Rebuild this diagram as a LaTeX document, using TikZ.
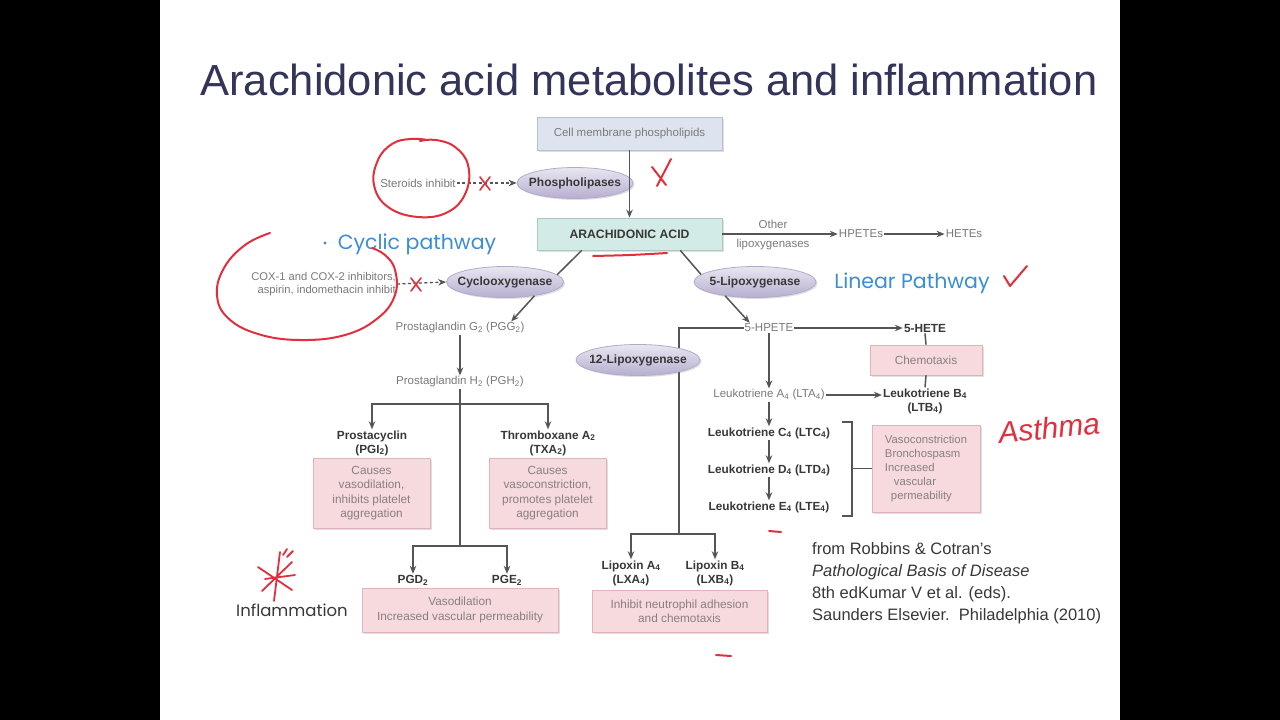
\documentclass[tikz,border=0pt]{standalone}
\usepackage{fontspec}
\setmainfont{Liberation Sans}
\newfontfamily\handfont{Poppins}
\usetikzlibrary{shapes.geometric,arrows.meta,shadows,calc}
\definecolor{linegray}{HTML}{555555}
\definecolor{txtgray}{HTML}{7A7A7A}
\definecolor{txtdark}{HTML}{383838}
\definecolor{boxtxt}{HTML}{8A7F80}
\definecolor{lavtop}{HTML}{E9E6F1}
\definecolor{lavbot}{HTML}{B7AECF}
\definecolor{lavdraw}{HTML}{B3AACB}
\definecolor{pinkfill}{HTML}{F6DADD}
\definecolor{pinkdraw}{HTML}{DDB4B8}
\definecolor{bluefill}{HTML}{DEE4EF}
\definecolor{bluedraw}{HTML}{B6C0D2}
\definecolor{tealfill}{HTML}{D3EBE6}
\definecolor{tealdraw}{HTML}{A9C9C2}
\definecolor{hred}{HTML}{E0303E}
\definecolor{hblue}{HTML}{3B8DD6}
\definecolor{titlecol}{HTML}{33345A}
\tikzset{
  ln/.style={draw=linegray, line width=1.5pt},
  arr/.style={ln, -{Stealth[length=8pt,width=6.5pt]}},
  darr/.style={draw=linegray, line width=1.3pt, dash pattern=on 3pt off 2.5pt, -{Stealth[length=8pt,width=6.5pt]}},
  gtxt/.style={font=\fontsize{11.5}{13}\selectfont, text=txtgray, inner sep=1pt},
  btxt/.style={font=\fontsize{11.8}{14}\selectfont\bfseries, text=txtdark, inner sep=1pt, align=center},
  enz/.style={ellipse, minimum width=118pt, minimum height=31pt, inner ysep=0pt, inner xsep=-6pt,
    top color=lavtop, bottom color=lavbot, draw=lavdraw, line width=0.8pt,
    font=\fontsize{12}{13}\selectfont\bfseries, text=txtdark,
    drop shadow={opacity=0.25,shadow xshift=1.5pt,shadow yshift=-1.5pt}},
  pinkbox/.style={rectangle, fill=pinkfill, draw=pinkdraw, line width=0.8pt,
    font=\fontsize{11.8}{14.2}\selectfont, text=boxtxt, align=center, inner sep=2pt,
    drop shadow={opacity=0.25,shadow xshift=2pt,shadow yshift=-2pt}},
  hand/.style={draw=hred, line width=2pt, line cap=round, line join=round},
  bluehand/.style={text=hblue, font=\handfont\fontsize{20.5}{22}\selectfont, inner sep=0pt},
}
\begin{document}
\begin{tikzpicture}[x=1pt,y=-1pt]
\useasboundingbox (0,0) rectangle (1280,720);
\fill[white] (0,0) rectangle (1280,720);
\fill[black] (0,0) rectangle (160,720);
\fill[black] (1120,0) rectangle (1280,720);

% title
\node[anchor=base, text=titlecol, font=\fontsize{43.5}{50}\selectfont, inner sep=0pt] (title) at (649,95) {Arachidonic acid metabolites and inflammation};

% top part
\node[rectangle, minimum width=185pt, minimum height=33pt, fill=bluefill, draw=bluedraw, line width=0.8pt,
  font=\fontsize{11.5}{13}\selectfont, text=txtgray,
  drop shadow={opacity=0.25,shadow xshift=2pt,shadow yshift=-2pt}] (cell) at (629.5,133.5) {Cell membrane phospholipids};
\node[enz, minimum width=116pt] (plip) at (575,183) {Phospholipases};
\node[rectangle, minimum width=185pt, minimum height=32pt, fill=tealfill, draw=tealdraw, line width=0.8pt,
  font=\fontsize{12.2}{13}\selectfont\bfseries, text=txtdark,
  drop shadow={opacity=0.25,shadow xshift=2pt,shadow yshift=-2pt}] (aa) at (629.5,234) {ARACHIDONIC ACID};
\node[gtxt] (ster) at (418,183) {Steroids inhibit};
\draw[arr] (cell.south) -- (aa.north);
\draw[darr] (ster.east) -- (plip.west);

\node[gtxt] (hpetes) at (861,234) {HPETEs};
\node[gtxt] (hetes) at (964,234) {HETEs};
\node[gtxt] (other) at (773,224) {Other};
\node[gtxt] (otherlox) at (773,245) {lipoxygenases};
\draw[arr] (aa.east) -- (hpetes.west);
\draw[arr] (hpetes.east) -- (hetes.west);

% enzymes
\node[enz, minimum width=116pt] (cox) at (505,282) {Cyclooxygenase};
\node[enz, minimum width=122pt] (lox5) at (755,282) {5-Lipoxygenase};
\draw[ln] ($(aa.south west)!0.243!(aa.south east)$) -- (cox.8);
\draw[ln] ($(aa.south west)!0.773!(aa.south east)$) -- (lox5.172);

\node[gtxt, align=right, anchor=east, font=\fontsize{11.2}{13}\selectfont] (coxinh) at (397,284) {COX-1 and COX-2 inhibitors,\\aspirin, indomethacin inhibit};
\draw[darr] (coxinh.east) -- (cox.west);

% cyclic pathway
\node[gtxt] (pgg2) at (460,328) {Prostaglandin G\textsubscript{2} (PGG\textsubscript{2})};
\node[gtxt] (pgh2) at (460,382) {Prostaglandin H\textsubscript{2} (PGH\textsubscript{2})};
\draw[arr] (cox.-25) -- ($(pgg2.north)!0.78!(pgg2.north east)$);
\draw[arr] (pgg2.south) -- (pgh2.north);

\coordinate (j1) at (460,404);
\coordinate (j2) at (460,546);
\draw[ln] (pgh2.south) -- (j2);
\node[btxt] (pgi2) at (372,443) {Prostacyclin\\(PGI\textsubscript{2})};
\node[btxt] (txa2) at (548,443) {Thromboxane A\textsubscript{2}\\(TXA\textsubscript{2})};
\draw[arr] (j1) -| (pgi2.north);
\draw[arr] (j1) -| (txa2.north);
\node[pinkbox, minimum width=117pt, minimum height=70pt] (pgibox) at (371.5,493) {Causes\\vasodilation,\\inhibits platelet\\aggregation};
\node[pinkbox, minimum width=117pt, minimum height=70pt] (txabox) at (547.5,493) {Causes\\vasoconstriction,\\promotes platelet\\aggregation};

\node[btxt] (pgd2) at (413,580) {PGD\textsubscript{2}};
\node[btxt] (pge2) at (507,580) {PGE\textsubscript{2}};
\draw[arr] (j2) -| (pgd2.north);
\draw[arr] (j2) -| (pge2.north);
\node[pinkbox, minimum width=196pt, minimum height=44pt] (pgdbox) at (460,610) {Vasodilation\\Increased vascular permeability};

% linear pathway
\node[gtxt] (hpete5) at (769,328) {5-HPETE};
\node[btxt] (hete5) at (925,328) {5-HETE};
\draw[arr] (lox5.-155) -- ($(hpete5.north west)!0.12!(hpete5.north east)$);
\draw[arr] (hpete5.east) -- (hete5.west);
\node[pinkbox, minimum width=112pt, minimum height=30pt] (chemo) at (926,360) {Chemotaxis};
\draw[ln] (hete5.south) -- (chemo.north);

\coordinate (lj) at (679,534);
\draw[ln] (hpete5.west) -| (lj);
\node[enz, minimum width=124pt] (lox12) at (638,360) {12-Lipoxygenase};

\node[gtxt] (lta4) at (769,395) {Leukotriene A\textsubscript{4} (LTA\textsubscript{4})};
\node[btxt] (ltb4) at (925,401) {Leukotriene B\textsubscript{4}\\(LTB\textsubscript{4})};
\draw[ln] (chemo.south) -- (ltb4.north);
\draw[arr] (hpete5.south) -- (lta4.north);
\draw[arr] (lta4.east) -- (lta4.east -| ltb4.west);
\node[btxt] (ltc4) at (769,433) {Leukotriene C\textsubscript{4} (LTC\textsubscript{4})};
\node[btxt] (ltd4) at (769,470) {Leukotriene D\textsubscript{4} (LTD\textsubscript{4})};
\node[btxt] (lte4) at (769,507) {Leukotriene E\textsubscript{4} (LTE\textsubscript{4})};
\draw[arr] (lta4.south) -- (ltc4.north);
\draw[arr] (ltc4.south) -- (ltd4.north);
\draw[arr] (ltd4.south) -- (lte4.north);

\node[pinkbox, minimum width=108pt, minimum height=87pt, align=left, font=\fontsize{11.3}{13.8}\selectfont] (ltbox) at (926,468.5) {Vasoconstriction\\Bronchospasm\\Increased\\\hspace*{9pt}vascular\\\hspace*{6pt}permeability};
\coordinate (brk) at (852,468.5);
\draw[ln] (842,422) -- (852,422) -- (852,516) -- (842,516);
\draw[ln] (brk) -- (ltbox.west);

\node[btxt] (lxa4) at (631,573) {Lipoxin A\textsubscript{4}\\(LXA\textsubscript{4})};
\node[btxt] (lxb4) at (715,573) {Lipoxin B\textsubscript{4}\\(LXB\textsubscript{4})};
\draw[arr] (lj) -| (lxa4.north);
\draw[arr] (lj) -| (lxb4.north);
\node[pinkbox, minimum width=175pt, minimum height=42pt] (lxbox) at (679.5,611) {Inhibit neutrophil adhesion\\and chemotaxis};

% citation
\node[anchor=north west, align=left, text=txtdark, font=\fontsize{16.5}{22}\selectfont, inner sep=0pt] (cite) at (812,542) {from Robbins \& Cotran's\\\textit{Pathological Basis of Disease}\\8th edKumar V et al. (eds).\\Saunders Elsevier.\ \ Philadelphia (2010)};

% blue handwritten labels
\fill[hblue] (325,243) circle (1.6pt);
\node[bluehand] (cyclic) at (417,244) {Cyclic pathway};
\node[bluehand] (linear) at (912,283) {Linear Pathway};
\node[text=txtdark, font=\handfont\fontsize{16.5}{18}\selectfont, inner sep=0pt] (infl) at (292,610) {Inflammation};
\node[text=hred, font=\fontsize{30}{30}\selectfont\itshape, rotate=6, inner sep=0pt] (asthma) at (1049,428) {Asthma};

% red annotations
\draw[hand] plot[smooth, tension=0.7] coordinates {(428,140) (410,139) (392,144) (378,160) (374,185) (388,207) (418,217) (448,212) (466,192) (468,165) (455,147) (436,140) (420,141)};
\draw[hand] plot[smooth, tension=0.7] coordinates {(270,233) (245,245) (224,268) (217,295) (228,318) (258,334) (300,340) (345,335) (378,318) (395,295) (395,270) (385,255) (372,248)};
\draw[hand, line width=1.6pt] (480,177) -- (490,190) (490,177) -- (480,190);
\draw[hand, line width=1.6pt] (411,278) -- (421,291) (421,278) -- (411,291);
\draw[hand] (652,167) -- (666,185) (671,159) -- (657,186);
\draw[hand] (1004,276) -- (1010,286) -- (1027,266);
\draw[hand] plot[smooth] coordinates {(593,256) (630,255) (667,253)};
\draw[hand] (769,531) -- (781,532);
\draw[hand] (716,655) -- (731,656);
\draw[hand, line width=1.8pt] (258,567) -- (292,590) (262,591) -- (292,562) (280,552) -- (274,601) (265,579) -- (295,575) (287,557) -- (293,551) (283,555) -- (287,549);
\end{tikzpicture}
\end{document}
